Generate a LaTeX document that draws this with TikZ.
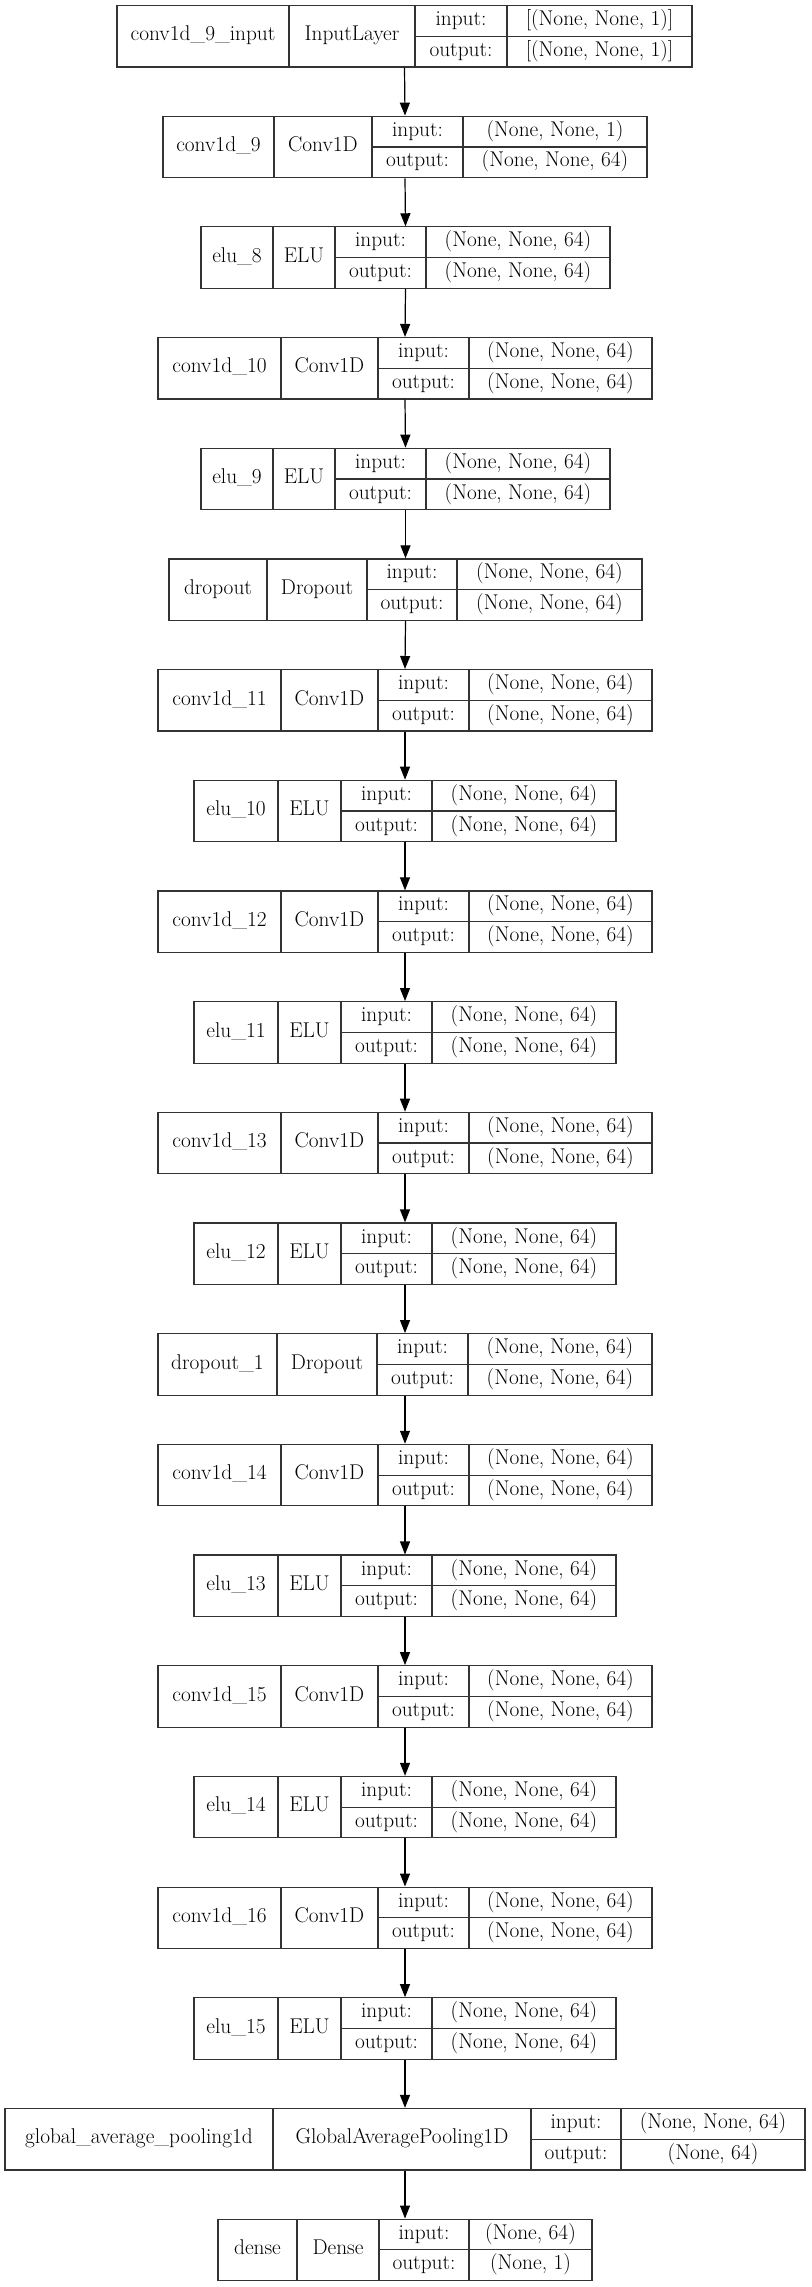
\documentclass[tikz,border=0pt]{standalone}
\usepackage{fontspec}
\usepackage{tikz}
\usetikzlibrary{arrows.meta}

% record box: id, row, column edges, layer name, class, input shape, output shape
\newcommand{\layerbox}[7]{%
  \foreach \xa/\xb/\xc/\xd/\xe in {#3}{%
    \pgfmathsetmacro{\yc}{36.25+110.68*#2}
    \node[layer,minimum width={(\xe-\xa)*0.75pt}] (#1) at ({(\xa+\xe)/2},\yc) {};
    \draw[rule] (\xb,{\yc-30.75}) -- (\xb,{\yc+30.75})
                (\xc,{\yc-30.75}) -- (\xc,{\yc+30.75})
                (\xd,{\yc-30.75}) -- (\xd,{\yc+30.75})
                (\xc,\yc) -- (\xe,\yc);
    \node[txt] (#1n) at ({(\xa+\xb)/2},\yc) {#4};
    \node[txt] (#1t) at ({(\xb+\xc)/2},\yc) {#5};
    \node[txt] (#1i) at ({(\xc+\xd)/2},{\yc-15.4}) {input:};
    \node[txt] (#1o) at ({(\xc+\xd)/2},{\yc+15.4}) {output:};
    \node[txt] (#1a) at ({(\xd+\xe)/2},{\yc-15.4}) {#6};
    \node[txt] (#1b) at ({(\xd+\xe)/2},{\yc+15.4}) {#7};
  }}

\begin{document}
\begin{tikzpicture}[x=0.75pt,y=-0.75pt]
        \tikzset{>={Triangle[length=9.75pt,width=7.5pt]}}
        \tikzstyle{layer}=[draw=black!80,line width=0.9pt,minimum height=46.1pt,inner sep=0pt]
        \tikzstyle{rule}=[draw=black!80,line width=0.9pt]
        \tikzstyle{txt}=[inner sep=0pt,text height=10pt,text depth=3pt,font=\fontsize{16}{19}\selectfont]
        \tikzstyle{link}=[->,line width=0.9pt]

        \path[use as bounding box,fill=white] (0,0) rectangle (811,2287);

        \layerbox{l0}{0}{117/289/415/507/692}{conv1d\_9\_input}{InputLayer}{[(None, None, 1)]}{[(None, None, 1)]}
        \layerbox{l1}{1}{163/274/372/463/647}{conv1d\_9}{Conv1D}{(None, None, 1)}{(None, None, 64)}
        \layerbox{l2}{2}{201/273/335/426/610}{elu\_8}{ELU}{(None, None, 64)}{(None, None, 64)}
        \layerbox{l3}{3}{158/281/378/469/652}{conv1d\_10}{Conv1D}{(None, None, 64)}{(None, None, 64)}
        \layerbox{l4}{4}{201/273/335/426/610}{elu\_9}{ELU}{(None, None, 64)}{(None, None, 64)}
        \layerbox{l5}{5}{169/267/367/457/642}{dropout}{Dropout}{(None, None, 64)}{(None, None, 64)}
        \layerbox{l6}{6}{158/281/378/469/652}{conv1d\_11}{Conv1D}{(None, None, 64)}{(None, None, 64)}
        \layerbox{l7}{7}{194/278/341/432/616}{elu\_10}{ELU}{(None, None, 64)}{(None, None, 64)}
        \layerbox{l8}{8}{158/281/378/469/652}{conv1d\_12}{Conv1D}{(None, None, 64)}{(None, None, 64)}
        \layerbox{l9}{9}{194/278/341/432/616}{elu\_11}{ELU}{(None, None, 64)}{(None, None, 64)}
        \layerbox{l10}{10}{158/281/378/469/652}{conv1d\_13}{Conv1D}{(None, None, 64)}{(None, None, 64)}
        \layerbox{l11}{11}{194/278/341/432/616}{elu\_12}{ELU}{(None, None, 64)}{(None, None, 64)}
        \layerbox{l12}{12}{158/277/377/468/652}{dropout\_1}{Dropout}{(None, None, 64)}{(None, None, 64)}
        \layerbox{l13}{13}{158/281/378/469/652}{conv1d\_14}{Conv1D}{(None, None, 64)}{(None, None, 64)}
        \layerbox{l14}{14}{194/278/341/432/616}{elu\_13}{ELU}{(None, None, 64)}{(None, None, 64)}
        \layerbox{l15}{15}{158/281/378/469/652}{conv1d\_15}{Conv1D}{(None, None, 64)}{(None, None, 64)}
        \layerbox{l16}{16}{194/278/341/432/616}{elu\_14}{ELU}{(None, None, 64)}{(None, None, 64)}
        \layerbox{l17}{17}{158/281/378/469/652}{conv1d\_16}{Conv1D}{(None, None, 64)}{(None, None, 64)}
        \layerbox{l18}{18}{194/278/341/432/616}{elu\_15}{ELU}{(None, None, 64)}{(None, None, 64)}
        \layerbox{l19}{19}{5/273/531/621/805}{global\_average\_pooling1d}{GlobalAveragePooling1D}{(None, None, 64)}{(None, 64)}
        \layerbox{l20}{20}{218/297/379/469/592}{dense}{Dense}{(None, 64)}{(None, 1)}

        \draw[link] (l0.south) -- (l1.north);
        \draw[link] (l1.south) -- (l2.north);
        \draw[link] (l2.south) -- (l3.north);
        \draw[link] (l3.south) -- (l4.north);
        \draw[link] (l4.south) -- (l5.north);
        \draw[link] (l5.south) -- (l6.north);
        \draw[link] (l6.south) -- (l7.north);
        \draw[link] (l7.south) -- (l8.north);
        \draw[link] (l8.south) -- (l9.north);
        \draw[link] (l9.south) -- (l10.north);
        \draw[link] (l10.south) -- (l11.north);
        \draw[link] (l11.south) -- (l12.north);
        \draw[link] (l12.south) -- (l13.north);
        \draw[link] (l13.south) -- (l14.north);
        \draw[link] (l14.south) -- (l15.north);
        \draw[link] (l15.south) -- (l16.north);
        \draw[link] (l16.south) -- (l17.north);
        \draw[link] (l17.south) -- (l18.north);
        \draw[link] (l18.south) -- (l19.north);
        \draw[link] (l19.south) -- (l20.north);
\end{tikzpicture}
\end{document}
